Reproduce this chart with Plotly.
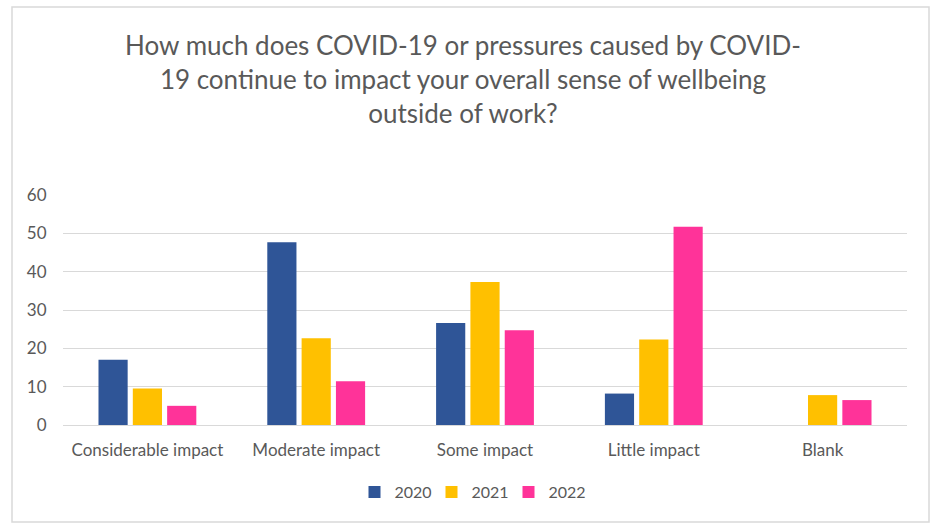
import plotly.graph_objects as go

categories = ["Considerable impact", "Moderate impact", "Some impact", "Little impact", "Blank"]
values_2020 = [17.0, 47.7, 26.6, 8.2, 0]
values_2021 = [9.5, 22.6, 37.3, 22.3, 7.8]
values_2022 = [5.0, 11.4, 24.7, 51.7, 6.5]
years = ["2020", "2021", "2022"]
colors = ["#2F5597", "#FFC000", "#FF3399"]

W, H = 942, 523
L, R, T, B = 63, 35, 195, 98
plot_w, plot_h = W - L - R, H - T - B

fig = go.Figure()
for name, vals, col in zip(years, [values_2020, values_2021, values_2022], colors):
    fig.add_trace(go.Bar(name=name, x=categories, y=vals, marker_color=col,
                         marker_line_width=0))

font_family = "Lato, 'Open Sans', sans-serif"
grey = "#595959"

fig.update_layout(
    width=W, height=H,
    margin=dict(l=L, r=R, t=T, b=B),
    paper_bgcolor="white", plot_bgcolor="white",
    barmode="group", bargap=0.39, bargroupgap=0.15,
    font=dict(family=font_family, color=grey, size=17),
    title=dict(
        text="How much does COVID-19 or pressures caused by COVID-<br>"
             "19 continue to impact your overall sense of wellbeing<br>"
             "outside of work?",
        x=463 / W, xref="container", xanchor="center",
        y=1 - 55 / H, yref="container", yanchor="middle",
        font=dict(family=font_family, size=26, color=grey),
    ),
    yaxis=dict(range=[0, 60], dtick=10, showgrid=True, gridcolor="#D9D9D9",
               gridwidth=1.3, zeroline=True, zerolinecolor="#D9D9D9",
               zerolinewidth=1.3, showline=False,
               ticks="outside", ticklen=12, tickcolor="rgba(0,0,0,0)",
               tickfont=dict(size=17, color=grey)),
    xaxis=dict(showline=False, ticks="outside", ticklen=10,
               tickcolor="rgba(0,0,0,0)", tickfont=dict(size=17, color=grey)),
    legend=dict(orientation="h", x=(470 - L) / plot_w, xanchor="center",
                y=-(492 - 425) / plot_h, yanchor="middle",
                font=dict(size=16, color=grey), itemwidth=30,
                entrywidth=32, traceorder="normal"),
)

# outer chart frame
fig.add_shape(type="rect", xref="paper", yref="paper",
              x0=(12 - L) / plot_w, x1=(929 - L) / plot_w,
              y0=(425 - 522) / plot_h, y1=(425 - 7) / plot_h,
              line=dict(color="#D9D9D9", width=1.5), layer="below")

fig.write_html("out.html")
